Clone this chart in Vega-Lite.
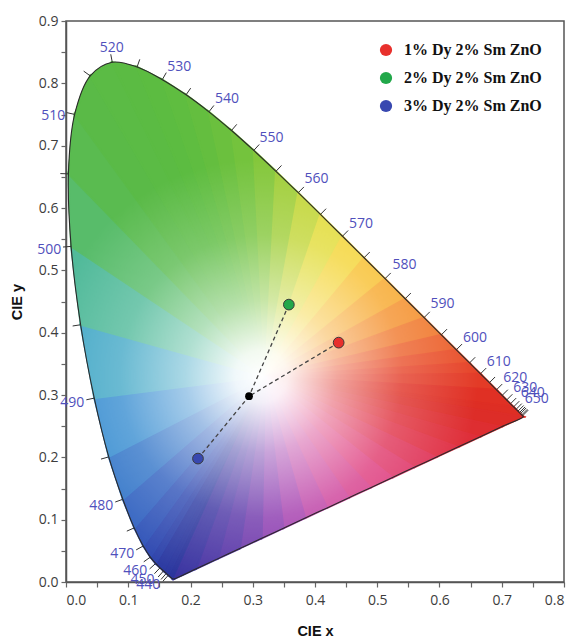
{
  "$schema": "https://vega.github.io/schema/vega-lite/v6.json",
  "width": 498,
  "height": 561,
  "autosize": "none",
  "padding": {"left": 66, "top": 21, "right": 12, "bottom": 58},
  "background": "white",
  "config": {
    "font": "Open Sans",
    "view": {"stroke": "#555555", "strokeWidth": 1.5},
    "axis": {
      "grid": false,
      "domainColor": "#555555",
      "domainWidth": 1.5,
      "tickColor": "#666666",
      "tickSize": 5,
      "tickWidth": 1.2,
      "labelFont": "Open Sans",
      "labelFontSize": 14,
      "labelColor": "#3d3d3d",
      "labelOverlap": false,
      "labelBound": false,
      "titleFont": "Liberation Sans",
      "titleFontSize": 14.5,
      "titleFontWeight": "bold",
      "titleColor": "#111111"
    }
  },
  "datasets": {
    "locus": [
      {"s": 380, "x": 0.1741, "y": 0.0050},
      {"s": 420, "x": 0.1714, "y": 0.0051},
      {"s": 430, "x": 0.1689, "y": 0.0069},
      {"s": 440, "x": 0.1644, "y": 0.0109, "tx": 0.1557, "ty": 0.0012},
      {"s": 445, "x": 0.1611, "y": 0.0138, "tx": 0.1526, "ty": 0.0040},
      {"s": 450, "x": 0.1566, "y": 0.0177, "tx": 0.1480, "ty": 0.0080},
      {"s": 455, "x": 0.1510, "y": 0.0227, "tx": 0.1420, "ty": 0.0133},
      {"s": 460, "x": 0.1440, "y": 0.0297, "tx": 0.1343, "ty": 0.0210},
      {"s": 465, "x": 0.1355, "y": 0.0399, "tx": 0.1249, "ty": 0.0324},
      {"s": 470, "x": 0.1241, "y": 0.0578, "tx": 0.1127, "ty": 0.0515},
      {"s": 475, "x": 0.1096, "y": 0.0868, "tx": 0.0977, "ty": 0.0816},
      {"s": 480, "x": 0.0913, "y": 0.1327, "tx": 0.0791, "ty": 0.1283},
      {"s": 485, "x": 0.0687, "y": 0.2007, "tx": 0.0562, "ty": 0.1972},
      {"s": 490, "x": 0.0454, "y": 0.2950, "tx": 0.0327, "ty": 0.2923},
      {"s": 495, "x": 0.0235, "y": 0.4127, "tx": 0.0107, "ty": 0.4107},
      {"s": 500, "x": 0.0082, "y": 0.5384, "tx": -0.0048, "ty": 0.5374},
      {"s": 505, "x": 0.0039, "y": 0.6548, "tx": -0.0091, "ty": 0.6552},
      {"s": 510, "x": 0.0139, "y": 0.7502, "tx": 0.0012, "ty": 0.7530},
      {"s": 515, "x": 0.0389, "y": 0.8120, "tx": 0.0284, "ty": 0.8196},
      {"s": 520, "x": 0.0743, "y": 0.8338, "tx": 0.0719, "ty": 0.8466},
      {"s": 525, "x": 0.1142, "y": 0.8262, "tx": 0.1185, "ty": 0.8385},
      {"s": 530, "x": 0.1547, "y": 0.8059, "tx": 0.1611, "ty": 0.8172},
      {"s": 535, "x": 0.1929, "y": 0.7816, "tx": 0.2003, "ty": 0.7923},
      {"s": 540, "x": 0.2296, "y": 0.7543, "tx": 0.2376, "ty": 0.7645},
      {"s": 545, "x": 0.2658, "y": 0.7243, "tx": 0.2743, "ty": 0.7342},
      {"s": 550, "x": 0.3016, "y": 0.6923, "tx": 0.3104, "ty": 0.7019},
      {"s": 555, "x": 0.3373, "y": 0.6589, "tx": 0.3462, "ty": 0.6683},
      {"s": 560, "x": 0.3731, "y": 0.6245, "tx": 0.3822, "ty": 0.6338},
      {"s": 565, "x": 0.4087, "y": 0.5896, "tx": 0.4178, "ty": 0.5989},
      {"s": 570, "x": 0.4441, "y": 0.5547, "tx": 0.4532, "ty": 0.5639},
      {"s": 575, "x": 0.4788, "y": 0.5202, "tx": 0.4880, "ty": 0.5294},
      {"s": 580, "x": 0.5125, "y": 0.4866, "tx": 0.5217, "ty": 0.4958},
      {"s": 585, "x": 0.5448, "y": 0.4544, "tx": 0.5540, "ty": 0.4636},
      {"s": 590, "x": 0.5752, "y": 0.4242, "tx": 0.5844, "ty": 0.4334},
      {"s": 595, "x": 0.6029, "y": 0.3965, "tx": 0.6121, "ty": 0.4057},
      {"s": 600, "x": 0.6270, "y": 0.3725, "tx": 0.6362, "ty": 0.3817},
      {"s": 605, "x": 0.6482, "y": 0.3514, "tx": 0.6574, "ty": 0.3606},
      {"s": 610, "x": 0.6658, "y": 0.3340, "tx": 0.6750, "ty": 0.3432},
      {"s": 615, "x": 0.6801, "y": 0.3197, "tx": 0.6893, "ty": 0.3289},
      {"s": 620, "x": 0.6915, "y": 0.3083, "tx": 0.7007, "ty": 0.3175},
      {"s": 625, "x": 0.7006, "y": 0.2993, "tx": 0.7098, "ty": 0.3085},
      {"s": 630, "x": 0.7079, "y": 0.2920, "tx": 0.7171, "ty": 0.3012},
      {"s": 635, "x": 0.7140, "y": 0.2859, "tx": 0.7232, "ty": 0.2951},
      {"s": 640, "x": 0.7190, "y": 0.2809, "tx": 0.7282, "ty": 0.2901},
      {"s": 645, "x": 0.7230, "y": 0.2770, "tx": 0.7322, "ty": 0.2862},
      {"s": 650, "x": 0.7260, "y": 0.2740, "tx": 0.7352, "ty": 0.2832},
      {"s": 655, "x": 0.7283, "y": 0.2717, "tx": 0.7375, "ty": 0.2809},
      {"s": 660, "x": 0.7300, "y": 0.2700, "tx": 0.7392, "ty": 0.2792},
      {"s": 670, "x": 0.7320, "y": 0.2680, "tx": 0.7412, "ty": 0.2772},
      {"s": 680, "x": 0.7334, "y": 0.2666, "tx": 0.7426, "ty": 0.2758},
      {"s": 700, "x": 0.7347, "y": 0.2653},
      {"s": 702.5, "x": 0.6997, "y": 0.2490},
      {"s": 705, "x": 0.6646, "y": 0.2328},
      {"s": 707.5, "x": 0.6296, "y": 0.2165},
      {"s": 710, "x": 0.5946, "y": 0.2002},
      {"s": 712.5, "x": 0.5595, "y": 0.1840},
      {"s": 715, "x": 0.5245, "y": 0.1677},
      {"s": 717.5, "x": 0.4894, "y": 0.1514},
      {"s": 720, "x": 0.4544, "y": 0.1352},
      {"s": 722.5, "x": 0.4194, "y": 0.1189},
      {"s": 725, "x": 0.3843, "y": 0.1026},
      {"s": 727.5, "x": 0.3493, "y": 0.0863},
      {"s": 730, "x": 0.3143, "y": 0.0701},
      {"s": 732.5, "x": 0.2792, "y": 0.0538},
      {"s": 735, "x": 0.2442, "y": 0.0375},
      {"s": 737.5, "x": 0.2091, "y": 0.0213}
    ],
    "fan": [
      {"c": 400, "x": [0.32, 0.1741, 0.1714], "y": [0.33, 0.005, 0.0051]},
      {"c": 430, "x": [0.32, 0.1714, 0.1644], "y": [0.33, 0.0051, 0.0109]},
      {"c": 445, "x": [0.32, 0.1644, 0.1566], "y": [0.33, 0.0109, 0.0177]},
      {"c": 455, "x": [0.32, 0.1566, 0.144], "y": [0.33, 0.0177, 0.0297]},
      {"c": 462.5, "x": [0.32, 0.144, 0.1355], "y": [0.33, 0.0297, 0.0399]},
      {"c": 467.5, "x": [0.32, 0.1355, 0.1241], "y": [0.33, 0.0399, 0.0578]},
      {"c": 472.5, "x": [0.32, 0.1241, 0.1096], "y": [0.33, 0.0578, 0.0868]},
      {"c": 477.5, "x": [0.32, 0.1096, 0.0913], "y": [0.33, 0.0868, 0.1327]},
      {"c": 482.5, "x": [0.32, 0.0913, 0.0687], "y": [0.33, 0.1327, 0.2007]},
      {"c": 487.5, "x": [0.32, 0.0687, 0.0454], "y": [0.33, 0.2007, 0.295]},
      {"c": 492.5, "x": [0.32, 0.0454, 0.0235], "y": [0.33, 0.295, 0.4127]},
      {"c": 497.5, "x": [0.32, 0.0235, 0.0082], "y": [0.33, 0.4127, 0.5384]},
      {"c": 502.5, "x": [0.32, 0.0082, 0.0039], "y": [0.33, 0.5384, 0.6548]},
      {"c": 507.5, "x": [0.32, 0.0039, 0.0139], "y": [0.33, 0.6548, 0.7502]},
      {"c": 512.5, "x": [0.32, 0.0139, 0.0389], "y": [0.33, 0.7502, 0.812]},
      {"c": 517.5, "x": [0.32, 0.0389, 0.0743], "y": [0.33, 0.812, 0.8338]},
      {"c": 522.5, "x": [0.32, 0.0743, 0.1142], "y": [0.33, 0.8338, 0.8262]},
      {"c": 527.5, "x": [0.32, 0.1142, 0.1547], "y": [0.33, 0.8262, 0.8059]},
      {"c": 532.5, "x": [0.32, 0.1547, 0.1929], "y": [0.33, 0.8059, 0.7816]},
      {"c": 537.5, "x": [0.32, 0.1929, 0.2296], "y": [0.33, 0.7816, 0.7543]},
      {"c": 542.5, "x": [0.32, 0.2296, 0.2658], "y": [0.33, 0.7543, 0.7243]},
      {"c": 547.5, "x": [0.32, 0.2658, 0.3016], "y": [0.33, 0.7243, 0.6923]},
      {"c": 552.5, "x": [0.32, 0.3016, 0.3373], "y": [0.33, 0.6923, 0.6589]},
      {"c": 557.5, "x": [0.32, 0.3373, 0.3731], "y": [0.33, 0.6589, 0.6245]},
      {"c": 562.5, "x": [0.32, 0.3731, 0.4087], "y": [0.33, 0.6245, 0.5896]},
      {"c": 567.5, "x": [0.32, 0.4087, 0.4441], "y": [0.33, 0.5896, 0.5547]},
      {"c": 572.5, "x": [0.32, 0.4441, 0.4788], "y": [0.33, 0.5547, 0.5202]},
      {"c": 577.5, "x": [0.32, 0.4788, 0.5125], "y": [0.33, 0.5202, 0.4866]},
      {"c": 582.5, "x": [0.32, 0.5125, 0.5448], "y": [0.33, 0.4866, 0.4544]},
      {"c": 587.5, "x": [0.32, 0.5448, 0.5752], "y": [0.33, 0.4544, 0.4242]},
      {"c": 592.5, "x": [0.32, 0.5752, 0.6029], "y": [0.33, 0.4242, 0.3965]},
      {"c": 597.5, "x": [0.32, 0.6029, 0.627], "y": [0.33, 0.3965, 0.3725]},
      {"c": 602.5, "x": [0.32, 0.627, 0.6482], "y": [0.33, 0.3725, 0.3514]},
      {"c": 607.5, "x": [0.32, 0.6482, 0.6658], "y": [0.33, 0.3514, 0.334]},
      {"c": 615, "x": [0.32, 0.6658, 0.6915], "y": [0.33, 0.334, 0.3083]},
      {"c": 630, "x": [0.32, 0.6915, 0.719], "y": [0.33, 0.3083, 0.2809]},
      {"c": 670, "x": [0.32, 0.719, 0.7347], "y": [0.33, 0.2809, 0.2653]},
      {"c": 701.25, "x": [0.32, 0.7347, 0.6997], "y": [0.33, 0.2653, 0.249]},
      {"c": 703.75, "x": [0.32, 0.6997, 0.6646], "y": [0.33, 0.249, 0.2328]},
      {"c": 706.25, "x": [0.32, 0.6646, 0.6296], "y": [0.33, 0.2328, 0.2165]},
      {"c": 708.75, "x": [0.32, 0.6296, 0.5946], "y": [0.33, 0.2165, 0.2002]},
      {"c": 711.25, "x": [0.32, 0.5946, 0.5595], "y": [0.33, 0.2002, 0.184]},
      {"c": 713.75, "x": [0.32, 0.5595, 0.5245], "y": [0.33, 0.184, 0.1677]},
      {"c": 716.25, "x": [0.32, 0.5245, 0.4894], "y": [0.33, 0.1677, 0.1514]},
      {"c": 718.75, "x": [0.32, 0.4894, 0.4544], "y": [0.33, 0.1514, 0.1352]},
      {"c": 721.25, "x": [0.32, 0.4544, 0.4194], "y": [0.33, 0.1352, 0.1189]},
      {"c": 723.75, "x": [0.32, 0.4194, 0.3843], "y": [0.33, 0.1189, 0.1026]},
      {"c": 726.25, "x": [0.32, 0.3843, 0.3493], "y": [0.33, 0.1026, 0.0863]},
      {"c": 728.75, "x": [0.32, 0.3493, 0.3143], "y": [0.33, 0.0863, 0.0701]},
      {"c": 731.25, "x": [0.32, 0.3143, 0.2792], "y": [0.33, 0.0701, 0.0538]},
      {"c": 733.75, "x": [0.32, 0.2792, 0.2442], "y": [0.33, 0.0538, 0.0375]},
      {"c": 736.25, "x": [0.32, 0.2442, 0.2091], "y": [0.33, 0.0375, 0.0213]},
      {"c": 738.75, "x": [0.32, 0.2091, 0.1741], "y": [0.33, 0.0213, 0.005]}
    ],
    "wavelabels": [
      {"nm": "440", "x": 0.1323, "y": -0.0053},
      {"nm": "450", "x": 0.1227, "y": 0.0027},
      {"nm": "460", "x": 0.1114, "y": 0.0172},
      {"nm": "470", "x": 0.0905, "y": 0.0452},
      {"nm": "480", "x": 0.0568, "y": 0.1215},
      {"nm": "490", "x": 0.0101, "y": 0.2866},
      {"nm": "500", "x": -0.0268, "y": 0.533},
      {"nm": "510", "x": -0.0204, "y": 0.7475},
      {"nm": "520", "x": 0.0736, "y": 0.8563},
      {"nm": "530", "x": 0.1821, "y": 0.826},
      {"nm": "540", "x": 0.2585, "y": 0.7744},
      {"nm": "550", "x": 0.3301, "y": 0.7127},
      {"nm": "560", "x": 0.4024, "y": 0.6461},
      {"nm": "570", "x": 0.474, "y": 0.5739},
      {"nm": "580", "x": 0.5439, "y": 0.5081},
      {"nm": "590", "x": 0.605, "y": 0.4455},
      {"nm": "600", "x": 0.6572, "y": 0.391},
      {"nm": "610", "x": 0.695, "y": 0.3525},
      {"nm": "620", "x": 0.7215, "y": 0.3268},
      {"nm": "630", "x": 0.7376, "y": 0.3108},
      {"nm": "640", "x": 0.7497, "y": 0.3028},
      {"nm": "650", "x": 0.7561, "y": 0.2931}
    ],
    "samples": [
      {"series": "1% Dy 2% Sm ZnO", "x": 0.438, "y": 0.384},
      {"series": "2% Dy 2% Sm ZnO", "x": 0.358, "y": 0.445},
      {"series": "3% Dy 2% Sm ZnO", "x": 0.212, "y": 0.198}
    ]
  },
  "encoding": {
    "x": {
      "field": "x",
      "type": "quantitative",
      "scale": {"domain": [0, 0.8], "nice": false, "zero": false},
      "axis": {
        "title": "CIE x",
        "values": [0, 0.05, 0.1, 0.15, 0.2, 0.25, 0.3, 0.35, 0.4, 0.45, 0.5, 0.55, 0.6, 0.65, 0.7, 0.75, 0.8],
        "labelExpr": "round(datum.value * 100) % 10 == 0 ? format(datum.value, '.1f') : ''",
        "labelPadding": 6,
        "titlePadding": 17
      }
    },
    "y": {
      "field": "y",
      "type": "quantitative",
      "scale": {"domain": [0, 0.9], "nice": false, "zero": false},
      "axis": {
        "title": "CIE y",
        "values": [0, 0.05, 0.1, 0.15, 0.2, 0.25, 0.3, 0.35, 0.4, 0.45, 0.5, 0.55, 0.6, 0.65, 0.7, 0.75, 0.8, 0.85, 0.9],
        "labelExpr": "round(datum.value * 100) % 10 == 0 ? format(datum.value, '.1f') : ''",
        "labelPadding": 3,
        "titlePadding": 14
      }
    }
  },
  "layer": [
    {
      "data": {"name": "locus"},
      "mark": {
        "type": "line",
        "filled": true,
        "interpolate": "catmull-rom-closed",
        "strokeOpacity": 0,
        "fill": {
          "gradient": "linear",
          "x1": 0, "y1": 0, "x2": 0, "y2": 1,
          "stops": [
            {"offset": 0, "color": "#5cbc40"},
            {"offset": 0.45, "color": "#5abc58"},
            {"offset": 0.6, "color": "#4cb8b8"},
            {"offset": 0.75, "color": "#3482cc"},
            {"offset": 1, "color": "#2c3aa2"}
          ]
        }
      },
      "encoding": {"order": {"field": "s", "type": "quantitative"}}
    },
    {
      "data": {"name": "fan"},
      "transform": [{"flatten": ["x", "y"]}],
      "mark": {"type": "line", "filled": true, "interpolate": "linear-closed", "strokeWidth": 2},
      "encoding": {
        "fill": {
          "field": "c",
          "type": "quantitative",
          "legend": null,
          "scale": {
            "domain": [400, 455, 470, 480, 485, 490, 495, 500, 505, 510, 530, 540, 550, 555, 560, 565, 570, 575, 580, 585, 590, 595, 600, 610, 630, 700, 708, 716.7, 722.5, 727.4, 732.4, 740],
            "range": ["#2a2f96", "#2c3aa2", "#2f4cb4", "#3068c4", "#3482cc", "#3e9ad6", "#4cb8b8", "#56bc7c", "#5abc58", "#5aba48", "#5cbc40", "#66be3e", "#78c43c", "#90ca3a", "#b0d238", "#d4da38", "#f0de3c", "#f8cc34", "#f8b42e", "#f69c2c", "#f2842c", "#ee6c2c", "#ea562c", "#e43e28", "#e03024", "#dc2c24", "#e03040", "#de3c80", "#c840a0", "#9838b0", "#6034a8", "#3434a0"],
            "interpolate": "rgb"
          }
        },
        "stroke": {
          "field": "c",
          "type": "quantitative",
          "legend": null,
          "scale": {
            "domain": [400, 455, 470, 480, 485, 490, 495, 500, 505, 510, 530, 540, 550, 555, 560, 565, 570, 575, 580, 585, 590, 595, 600, 610, 630, 700, 708, 716.7, 722.5, 727.4, 732.4, 740],
            "range": ["#2a2f96", "#2c3aa2", "#2f4cb4", "#3068c4", "#3482cc", "#3e9ad6", "#4cb8b8", "#56bc7c", "#5abc58", "#5aba48", "#5cbc40", "#66be3e", "#78c43c", "#90ca3a", "#b0d238", "#d4da38", "#f0de3c", "#f8cc34", "#f8b42e", "#f69c2c", "#f2842c", "#ee6c2c", "#ea562c", "#e43e28", "#e03024", "#dc2c24", "#e03040", "#de3c80", "#c840a0", "#9838b0", "#6034a8", "#3434a0"],
            "interpolate": "rgb"
          }
        }
      }
    },
    {
      "data": {"name": "locus"},
      "mark": {
        "type": "line",
        "filled": true,
        "interpolate": "catmull-rom-closed",
        "strokeOpacity": 0,
        "fill": {
          "gradient": "radial",
          "x1": 0.433, "y1": 0.608, "r1": 0,
          "x2": 0.433, "y2": 0.608, "r2": 0.42,
          "stops": [
            {"offset": 0, "color": "rgba(255,255,255,1)"},
            {"offset": 0.12, "color": "rgba(255,255,255,0.92)"},
            {"offset": 0.35, "color": "rgba(255,255,255,0.55)"},
            {"offset": 0.65, "color": "rgba(255,255,255,0.2)"},
            {"offset": 1, "color": "rgba(255,255,255,0)"}
          ]
        }
      },
      "encoding": {"order": {"field": "s", "type": "quantitative"}}
    },
    {
      "data": {"name": "locus"},
      "mark": {"type": "line", "interpolate": "catmull-rom-closed", "color": "#2a2a2a", "strokeWidth": 1.1},
      "encoding": {"order": {"field": "s", "type": "quantitative"}}
    },
    {
      "data": {"name": "locus"},
      "transform": [{"filter": "isValid(datum.tx)"}],
      "mark": {"type": "rule", "color": "#333333", "strokeWidth": 1},
      "encoding": {
        "x2": {"field": "tx"},
        "y2": {"field": "ty"}
      }
    },
    {
      "data": {"name": "wavelabels"},
      "mark": {"type": "text", "font": "Open Sans", "fontSize": 14, "color": "#5050bc", "align": "center", "baseline": "middle"},
      "encoding": {"text": {"field": "nm"}}
    },
    {
      "data": {"name": "samples"},
      "mark": {"type": "rule", "strokeDash": [4, 3], "color": "#444444", "strokeWidth": 1.3},
      "encoding": {
        "x2": {"datum": 0.294},
        "y2": {"datum": 0.298}
      }
    },
    {
      "data": {"name": "samples"},
      "mark": {"type": "circle", "size": 115, "opacity": 1, "stroke": "#3a3a3a", "strokeWidth": 1},
      "encoding": {
        "color": {
          "field": "series",
          "type": "nominal",
          "scale": {
            "domain": ["1% Dy 2% Sm ZnO", "2% Dy 2% Sm ZnO", "3% Dy 2% Sm ZnO"],
            "range": ["#e8302c", "#22a84a", "#3848b0"]
          },
          "legend": {
            "orient": "none",
            "legendX": 312,
            "legendY": 21,
            "title": null,
            "padding": 0,
            "symbolType": "circle",
            "symbolSize": 150,
            "symbolStrokeWidth": 0,
            "labelFont": "Liberation Serif",
            "labelFontWeight": "bold",
            "labelFontSize": 16,
            "labelColor": "#111111",
            "labelOffset": 10,
            "rowPadding": 12
          }
        }
      }
    },
    {
      "data": {"values": [{"x": 0.294, "y": 0.298}]},
      "mark": {"type": "circle", "size": 60, "opacity": 1, "color": "#000000"}
    }
  ]
}
